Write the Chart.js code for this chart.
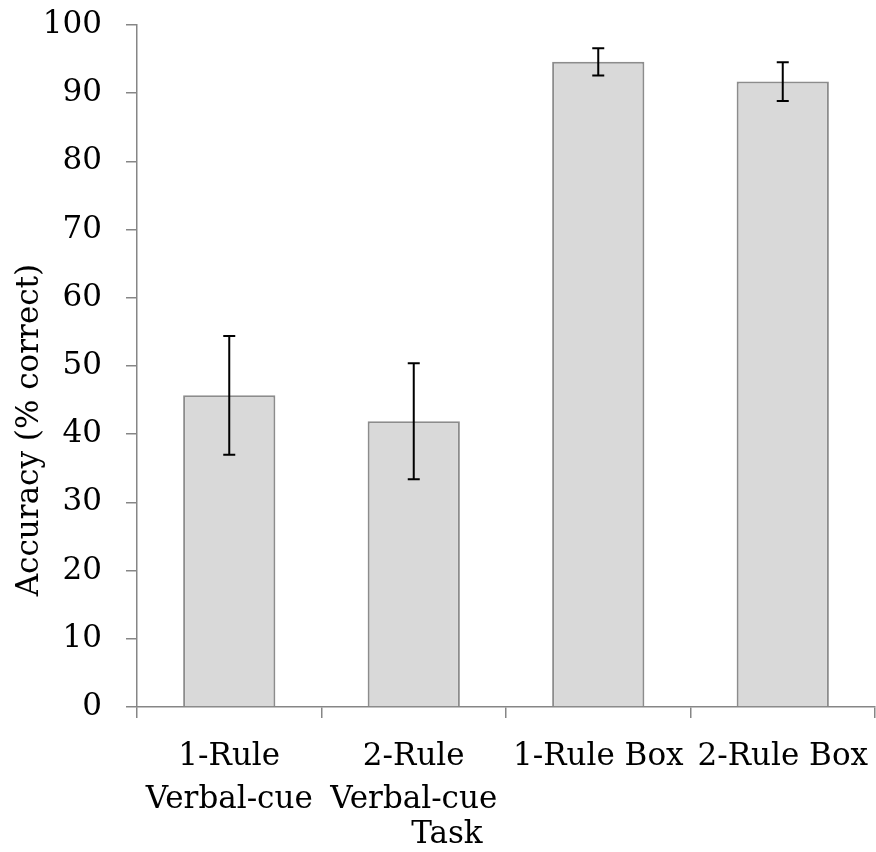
<!DOCTYPE html>
<html>
<head>
<meta charset="utf-8">
<script src="https://cdn.jsdelivr.net/npm/chart.js@4"></script>
<style>
  html, body { margin: 0; padding: 0; background: #ffffff; }
  #wrap { width: 876px; height: 852px; }
</style>
</head>
<body>
<div id="wrap"><canvas id="grafico"></canvas></div>
<script>
const categorias = [["1-Rule", "Verbal-cue"], ["2-Rule", "Verbal-cue"], "1-Rule Box", "2-Rule Box"];
const precision = [45.7, 41.9, 94.6, 91.7];
const errores = [8.7, 8.5, 2.0, 2.85];
const yTicks = [0, 10, 20, 30, 40, 50, 60, 70, 80, 90, 100];

const fuente = "'DejaVu Serif', serif";
const gris = "#868686";

// barras de error dibujadas con la escala y del grafico
const barrasError = {
  id: "barrasError",
  afterDatasetsDraw(chart) {
    const ctx = chart.ctx;
    const y = chart.scales.y;
    const meta = chart.getDatasetMeta(0);
    ctx.save();
    ctx.strokeStyle = "#000000";
    ctx.lineWidth = 2;
    meta.data.forEach((bar, i) => {
      const x = bar.x;
      const arriba = y.getPixelForValue(precision[i] + errores[i]);
      const abajo = y.getPixelForValue(precision[i] - errores[i]);
      ctx.beginPath();
      ctx.moveTo(x, arriba);
      ctx.lineTo(x, abajo);
      ctx.moveTo(x - 6, arriba);
      ctx.lineTo(x + 6, arriba);
      ctx.moveTo(x - 6, abajo);
      ctx.lineTo(x + 6, abajo);
      ctx.stroke();
    });
    ctx.restore();
  }
};

const config = {
  type: "bar",
  data: {
    labels: categorias,
    datasets: [{
      data: precision,
      backgroundColor: "#d9d9d9",
      borderColor: "#8c8c8c",
      borderWidth: 2,
      barPercentage: 0.5,
      categoryPercentage: 1.0
    }]
  },
  options: {
    responsive: true,
    maintainAspectRatio: false,
    animation: false,
    layout: { padding: { top: 25, right: 1, bottom: 0, left: 0 } },
    plugins: {
      legend: { display: false },
      tooltip: { enabled: false }
    },
    scales: {
      x: {
        afterFit(scale) {
          scale.paddingLeft = 0;
          scale.paddingRight = 0;
          scale.height = 145;
        },
        border: { color: gris, width: 1.5 },
        grid: { drawOnChartArea: false, color: gris, lineWidth: 1.5, tickLength: 11, offset: true },
        ticks: {
          color: "#000000",
          padding: 17,
          maxRotation: 0,
          autoSkip: false,
          font: { family: fuente, size: 31, lineHeight: 1.387 }
        },
        title: {
          display: true,
          text: "Task" + "\u0020".repeat(12),
          color: "#000000",
          padding: { top: 0, bottom: 0 },
          font: { family: fuente, size: 31, lineHeight: 1.1 }
        }
      },
      y: {
        min: 0,
        max: 100,
        afterBuildTicks(scale) {
          scale.ticks = yTicks.map((v) => ({ value: v }));
        },
        afterFit(scale) {
          scale.width = 137;
          scale.paddingTop = 0;
          scale.paddingBottom = 0;
        },
        border: { color: gris, width: 1.5 },
        grid: { drawOnChartArea: false, color: gris, lineWidth: 1.5, tickLength: 11 },
        ticks: {
          color: "#000000",
          padding: 24,
          font: { family: fuente, size: 31 }
        },
        title: {
          display: true,
          text: "Accuracy (% correct)" + "\u0020".repeat(13),
          color: "#000000",
          padding: { top: 11, bottom: 0 },
          font: { family: fuente, size: 31, lineHeight: 1.2 }
        }
      }
    }
  },
  plugins: [barrasError]
};

new Chart(document.getElementById("grafico"), config);
</script>
</body>
</html>
